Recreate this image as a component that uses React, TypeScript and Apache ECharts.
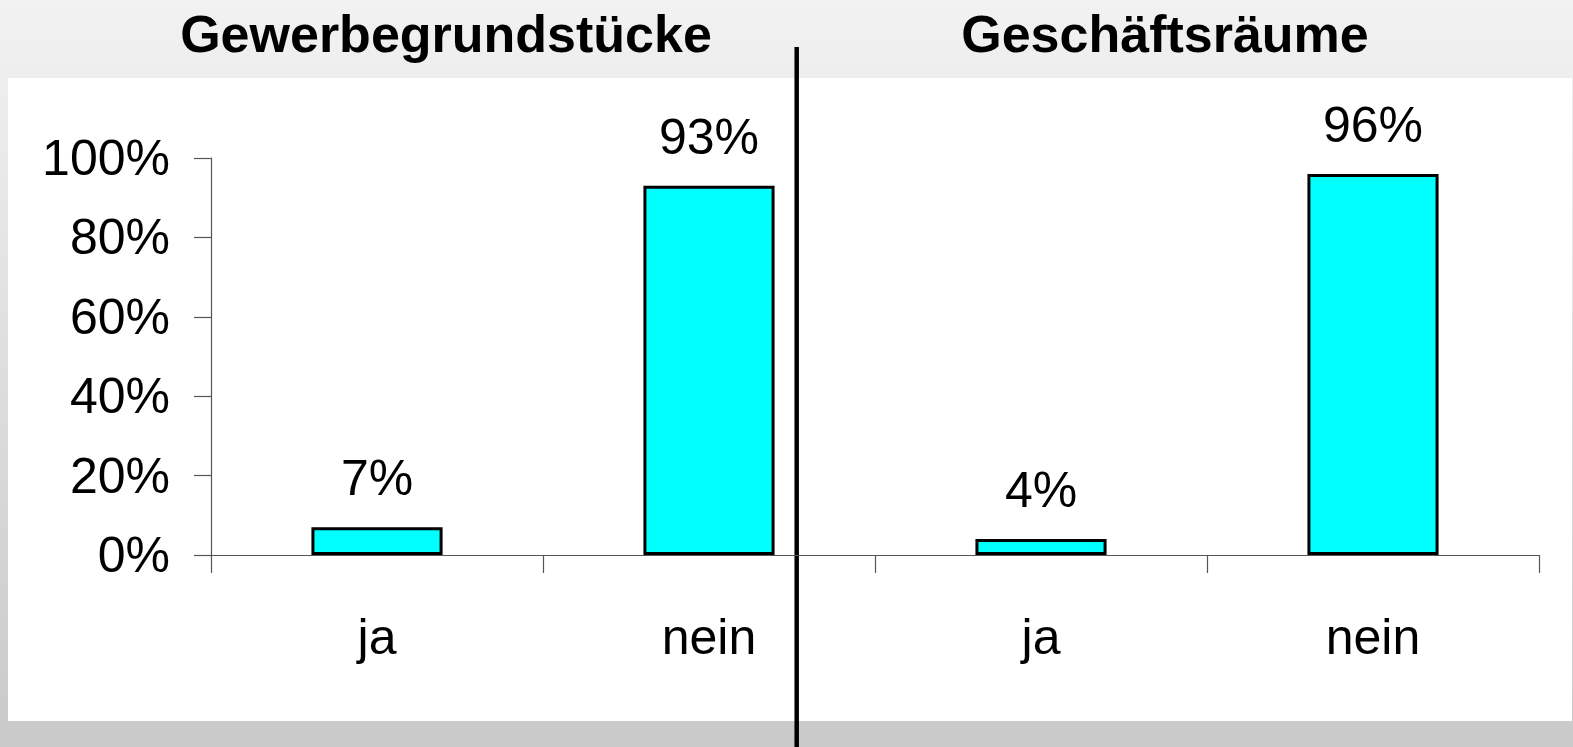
import React, { useEffect, useRef } from "react";
import * as echarts from "echarts";

const categories = ["ja", "nein", "ja", "nein"];
const values = [7, 93, 4, 96];
const panelTitles = ["Gewerbegrundstücke", "Geschäftsräume"];
const yMin = 0;
const yMax = 100;
const yInterval = 20;

const FONT = "'Liberation Sans', Arial, Helvetica, sans-serif";

export default function App() {
  const ref = useRef<HTMLDivElement>(null);

  useEffect(() => {
    if (!ref.current) return;
    const chart = echarts.init(ref.current, undefined, { renderer: "svg" });
    chart.setOption({
      animation: false,
      backgroundColor: "transparent",
      textStyle: { fontFamily: FONT },
      grid: { left: 211, right: 34, top: 158, bottom: 192 },
      xAxis: {
        type: "category",
        data: categories,
        axisLine: { lineStyle: { color: "#555", width: 1.2 } },
        axisTick: { show: true, length: 18, lineStyle: { color: "#555", width: 1.2 } },
        axisLabel: { color: "#000", fontSize: 50, margin: 57, fontFamily: FONT },
      },
      yAxis: {
        type: "value",
        min: yMin,
        max: yMax,
        interval: yInterval,
        splitLine: { show: false },
        axisLine: { show: true, lineStyle: { color: "#555", width: 1.2 } },
        axisTick: { show: true, length: 17, lineStyle: { color: "#555", width: 1.2 } },
        axisLabel: {
          color: "#000",
          fontSize: 50,
          margin: 41,
          fontFamily: FONT,
          formatter: "{value}%",
          padding: [6, 0, 0, 0],
        },
      },
      series: [
        {
          type: "bar",
          data: values,
          barWidth: "39.5%",
          itemStyle: { color: "#00FFFF", borderColor: "#000", borderWidth: 3 },
          label: {
            show: true,
            position: "top",
            distance: 24,
            formatter: "{c}%",
            color: "#000",
            fontSize: 50,
            fontFamily: FONT,
          },
        },
      ],
      graphic: [
        {
          type: "text",
          x: 446,
          y: 34,
          style: {
            text: panelTitles[0],
            fontSize: 52,
            fontWeight: "bold",
            fontFamily: FONT,
            fill: "#000",
            textAlign: "center",
            textVerticalAlign: "middle",
          },
        },
        {
          type: "text",
          x: 1165,
          y: 34,
          style: {
            text: panelTitles[1],
            fontSize: 52,
            fontWeight: "bold",
            fontFamily: FONT,
            fill: "#000",
            textAlign: "center",
            textVerticalAlign: "middle",
          },
        },
        {
          type: "line",
          shape: { x1: 796.7, y1: 47, x2: 796.7, y2: 747 },
          style: { stroke: "#000", lineWidth: 4.5 },
        },
      ],
    });
    return () => chart.dispose();
  }, []);

  return (
    <div
      style={{
        position: "fixed",
        left: 0,
        top: 0,
        width: 1573,
        height: 747,
        background: "linear-gradient(to bottom, #f2f2f2, #c9c9c9)",
        overflow: "hidden",
      }}
    >
      <div
        style={{
          position: "absolute",
          left: 8,
          top: 78,
          width: 1564,
          height: 643,
          background: "#ffffff",
        }}
      />
      <div
        ref={ref}
        style={{ position: "absolute", left: 0, top: 0, width: 1573, height: 747 }}
      />
    </div>
  );
}
